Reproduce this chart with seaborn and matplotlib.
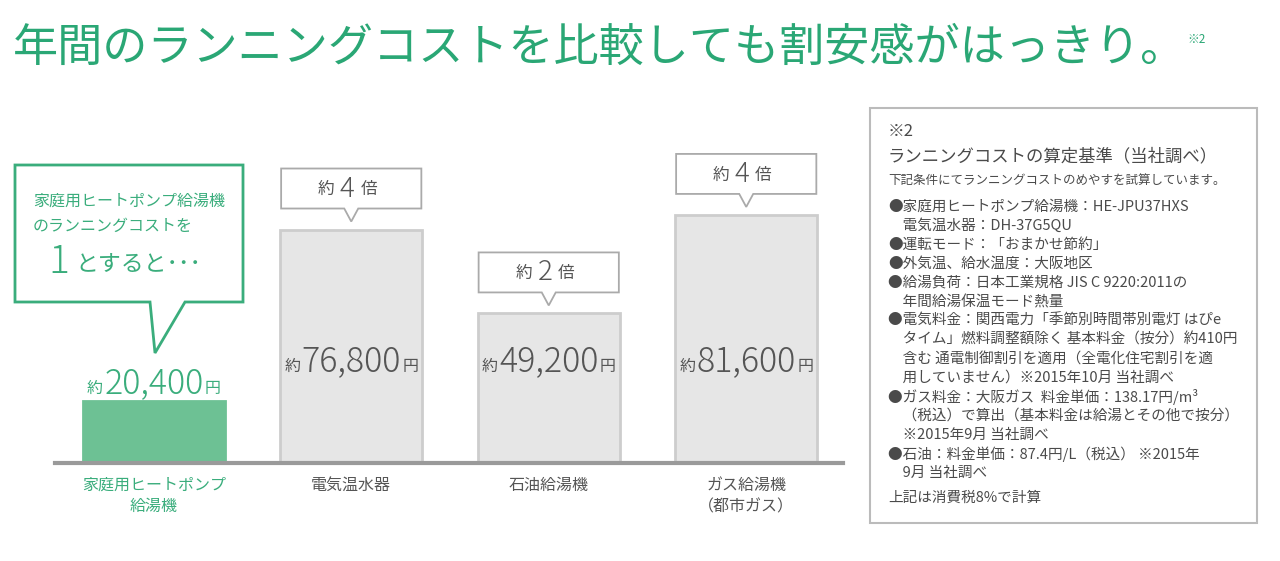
import matplotlib
matplotlib.use("Agg")
import matplotlib.pyplot as plt
import seaborn as sns
import pandas as pd
from matplotlib.patches import Rectangle, Polygon

# data
categories = ["家庭用ヒートポンプ\n給湯機", "電気温水器", "石油給湯機", "ガス給湯機\n（都市ガス）"]
annual_cost = [20400, 76800, 49200, 81600]
cost_labels = ["20,400", "76,800", "49,200", "81,600"]
ratio_labels = [None, "4", "2", "4"]

title = "年間のランニングコストを比較しても割安感がはっきり。"
callout_lines = ["家庭用ヒートポンプ給湯機", "のランニングコストを"]
notes_head = ["※2", "ランニングコストの算定基準（当社調べ）"]
notes_sub = "下記条件にてランニングコストのめやすを試算しています。"
notes_lines = [
    "●家庭用ヒートポンプ給湯機：HE-JPU37HXS",
    "　電気温水器：DH-37G5QU",
    "●運転モード：「おまかせ節約」",
    "●外気温、給水温度：大阪地区",
    "●給湯負荷：日本工業規格 JIS C 9220:2011の",
    "　年間給湯保温モード熱量",
    "●電気料金：関西電力「季節別時間帯別電灯 はぴe",
    "　タイム」燃料調整額除く 基本料金（按分）約410円",
    "　含む 通電制御割引を適用（全電化住宅割引を適",
    "　用していません）※2015年10月 当社調べ",
    "●ガス料金：大阪ガス  料金単価：138.17円/m³",
    "　（税込）で算出（基本料金は給湯とその他で按分）",
    "　※2015年9月 当社調べ",
    "●石油：料金単価：87.4円/L（税込） ※2015年",
    "　9月 当社調べ",
]
notes_foot = "上記は消費税8%で計算"

# colours
GREEN_TITLE = "#2aa775"
GREEN_BAR = "#6dc194"
GREEN_TEXT = "#3aad7c"
GRAY_BAR = "#e6e6e6"
GRAY_EDGE = "#cdcdcd"
GRAY_TEXT = "#555555"
NOTE_TEXT = "#4a4a4a"

sns.set_style("white")
plt.rcParams["font.family"] = ["Noto Sans CJK JP", "DejaVu Sans"]

W, H = 1280, 561
fig = plt.figure(figsize=(W / 100, H / 100), dpi=100)

# bar axes (pixel geometry of the reference)
ax_l, ax_b, ax_w, ax_h = 55, 98, 788, 363
ax = fig.add_axes([ax_l / W, ax_b / H, ax_w / W, ax_h / H])
ymax = 119400
xlo, xhi = -0.5, 3.49
ypx = ymax / ax_h          # data units per pixel (y)
xpx = (xhi - xlo) / ax_w   # data units per pixel (x)

df = pd.DataFrame({"cat": categories, "cost": annual_cost})
sns.barplot(data=df, x="cat", y="cost", hue="cat", palette=[GREEN_BAR] + [GRAY_BAR] * 3,
            width=0.72, saturation=1, legend=False, ax=ax, zorder=2)
for i, p in enumerate(ax.patches):
    p.set_edgecolor(GREEN_BAR if i == 0 else GRAY_EDGE)
    p.set_linewidth(2)

ax.set_xlim(xlo, xhi)
ax.set_ylim(0, ymax)
ax.set_yticks([])
ax.set_xlabel("")
ax.set_ylabel("")
sns.despine(ax=ax, left=True)
ax.spines["bottom"].set_color("#9a9a9a")
ax.spines["bottom"].set_linewidth(3)
ax.spines["bottom"].set_zorder(3)
ax.tick_params(axis="x", length=0, pad=10)
for i, lab in enumerate(ax.get_xticklabels()):
    lab.set_fontsize(11.5)
    lab.set_linespacing(1.35)
    lab.set_color(GREEN_TEXT if i == 0 else GRAY_TEXT)


def yen_label(x, y, num, color):
    t = ax.text(x, y, num, ha="center", va="center", fontsize=24.5, color=color,
                fontweight="light", zorder=5)
    ax.annotate("約", xy=(0, 0), xycoords=t, xytext=(-1, 3), textcoords="offset points",
                ha="right", va="bottom", fontsize=11.5, color=color, zorder=5)
    ax.annotate("円", xy=(1, 0), xycoords=t, xytext=(1, 3), textcoords="offset points",
                ha="left", va="bottom", fontsize=11.5, color=color, zorder=5)


inner_y = 0.41 * max(annual_cost)
for i, v in enumerate(annual_cost):
    if i == 0:
        yen_label(i, v + 18 * ypx, cost_labels[i], GREEN_TEXT)
    else:
        yen_label(i, inner_y, cost_labels[i], GRAY_TEXT)

# "約N倍" speech boxes above the comparison bars
half = 0.355
tail = 7 * xpx
for i, r in enumerate(ratio_labels):
    if r is None:
        continue
    v = annual_cost[i]
    b0, b1, tip = v + 21 * ypx, v + 61 * ypx, v + 8 * ypx
    shape = [(i - half, b1), (i + half, b1), (i + half, b0), (i + tail, b0),
             (i, tip), (i - tail, b0), (i - half, b0)]
    ax.add_patch(Polygon(shape, closed=True, facecolor="white", edgecolor="#aaaaaa",
                         linewidth=1.3, clip_on=False, zorder=4))
    t = ax.text(i - 0.02, (b0 + b1) / 2, r, ha="center", va="center", fontsize=20,
                color=GRAY_TEXT, fontweight="light", zorder=5)
    ax.annotate("約", xy=(0, 0), xycoords=t, xytext=(-4, 3), textcoords="offset points",
                ha="right", va="bottom", fontsize=12, color=GRAY_TEXT, zorder=5)
    ax.annotate("倍", xy=(1, 0), xycoords=t, xytext=(4, 3), textcoords="offset points",
                ha="left", va="bottom", fontsize=12, color=GRAY_TEXT, zorder=5)

# overlay in pixel coordinates for title, callout and notes
ov = fig.add_axes([0, 0, 1, 1], zorder=10)
ov.set_xlim(0, W)
ov.set_ylim(H, 0)
ov.axis("off")

ttl = ov.text(13, 48, title, fontsize=32.5, color=GREEN_TITLE, ha="left", va="center")
ov.annotate("※2", xy=(1, 0.5), xycoords=ttl, xytext=(1, 6), textcoords="offset points",
            fontsize=8.5, color=GREEN_TITLE, ha="left", va="center")

# green callout
callout = [(15, 165), (243, 165), (243, 302), (185, 302), (155, 353), (150, 302), (15, 302)]
ov.add_patch(Polygon(callout, closed=True, facecolor="white", edgecolor=GREEN_TEXT, linewidth=2))
ov.text(33, 201, callout_lines[0], fontsize=11.5, color=GREEN_TEXT, ha="left", va="center")
ov.text(33, 226, callout_lines[1], fontsize=11.5, color=GREEN_TEXT, ha="left", va="center")
one = ov.text(48, 262, "1", fontsize=28, color=GREEN_TEXT, fontweight="light",
              ha="left", va="center")
ov.annotate("とすると･･･", xy=(1, 0), xycoords=one, xytext=(5, 4), textcoords="offset points",
            ha="left", va="bottom", fontsize=16.5, color=GREEN_TEXT)

# notes box
ov.add_patch(Rectangle((870, 108), 387, 415, facecolor="none", edgecolor="#bbbbbb", linewidth=1.5))
ov.text(888, 131, notes_head[0], fontsize=12, color=NOTE_TEXT, ha="left", va="center")
ov.text(888, 156, notes_head[1], fontsize=12.5, color=NOTE_TEXT, ha="left", va="center")
ov.text(888, 180, notes_sub, fontsize=9, color=NOTE_TEXT, ha="left", va="center")
for k, line in enumerate(notes_lines):
    ov.text(888, 207 + 19 * k, line, fontsize=10.5, color=NOTE_TEXT, ha="left", va="center")
ov.text(888, 498, notes_foot, fontsize=10.5, color=NOTE_TEXT, ha="left", va="center")

fig.savefig("out.png", dpi=100, facecolor="white")
